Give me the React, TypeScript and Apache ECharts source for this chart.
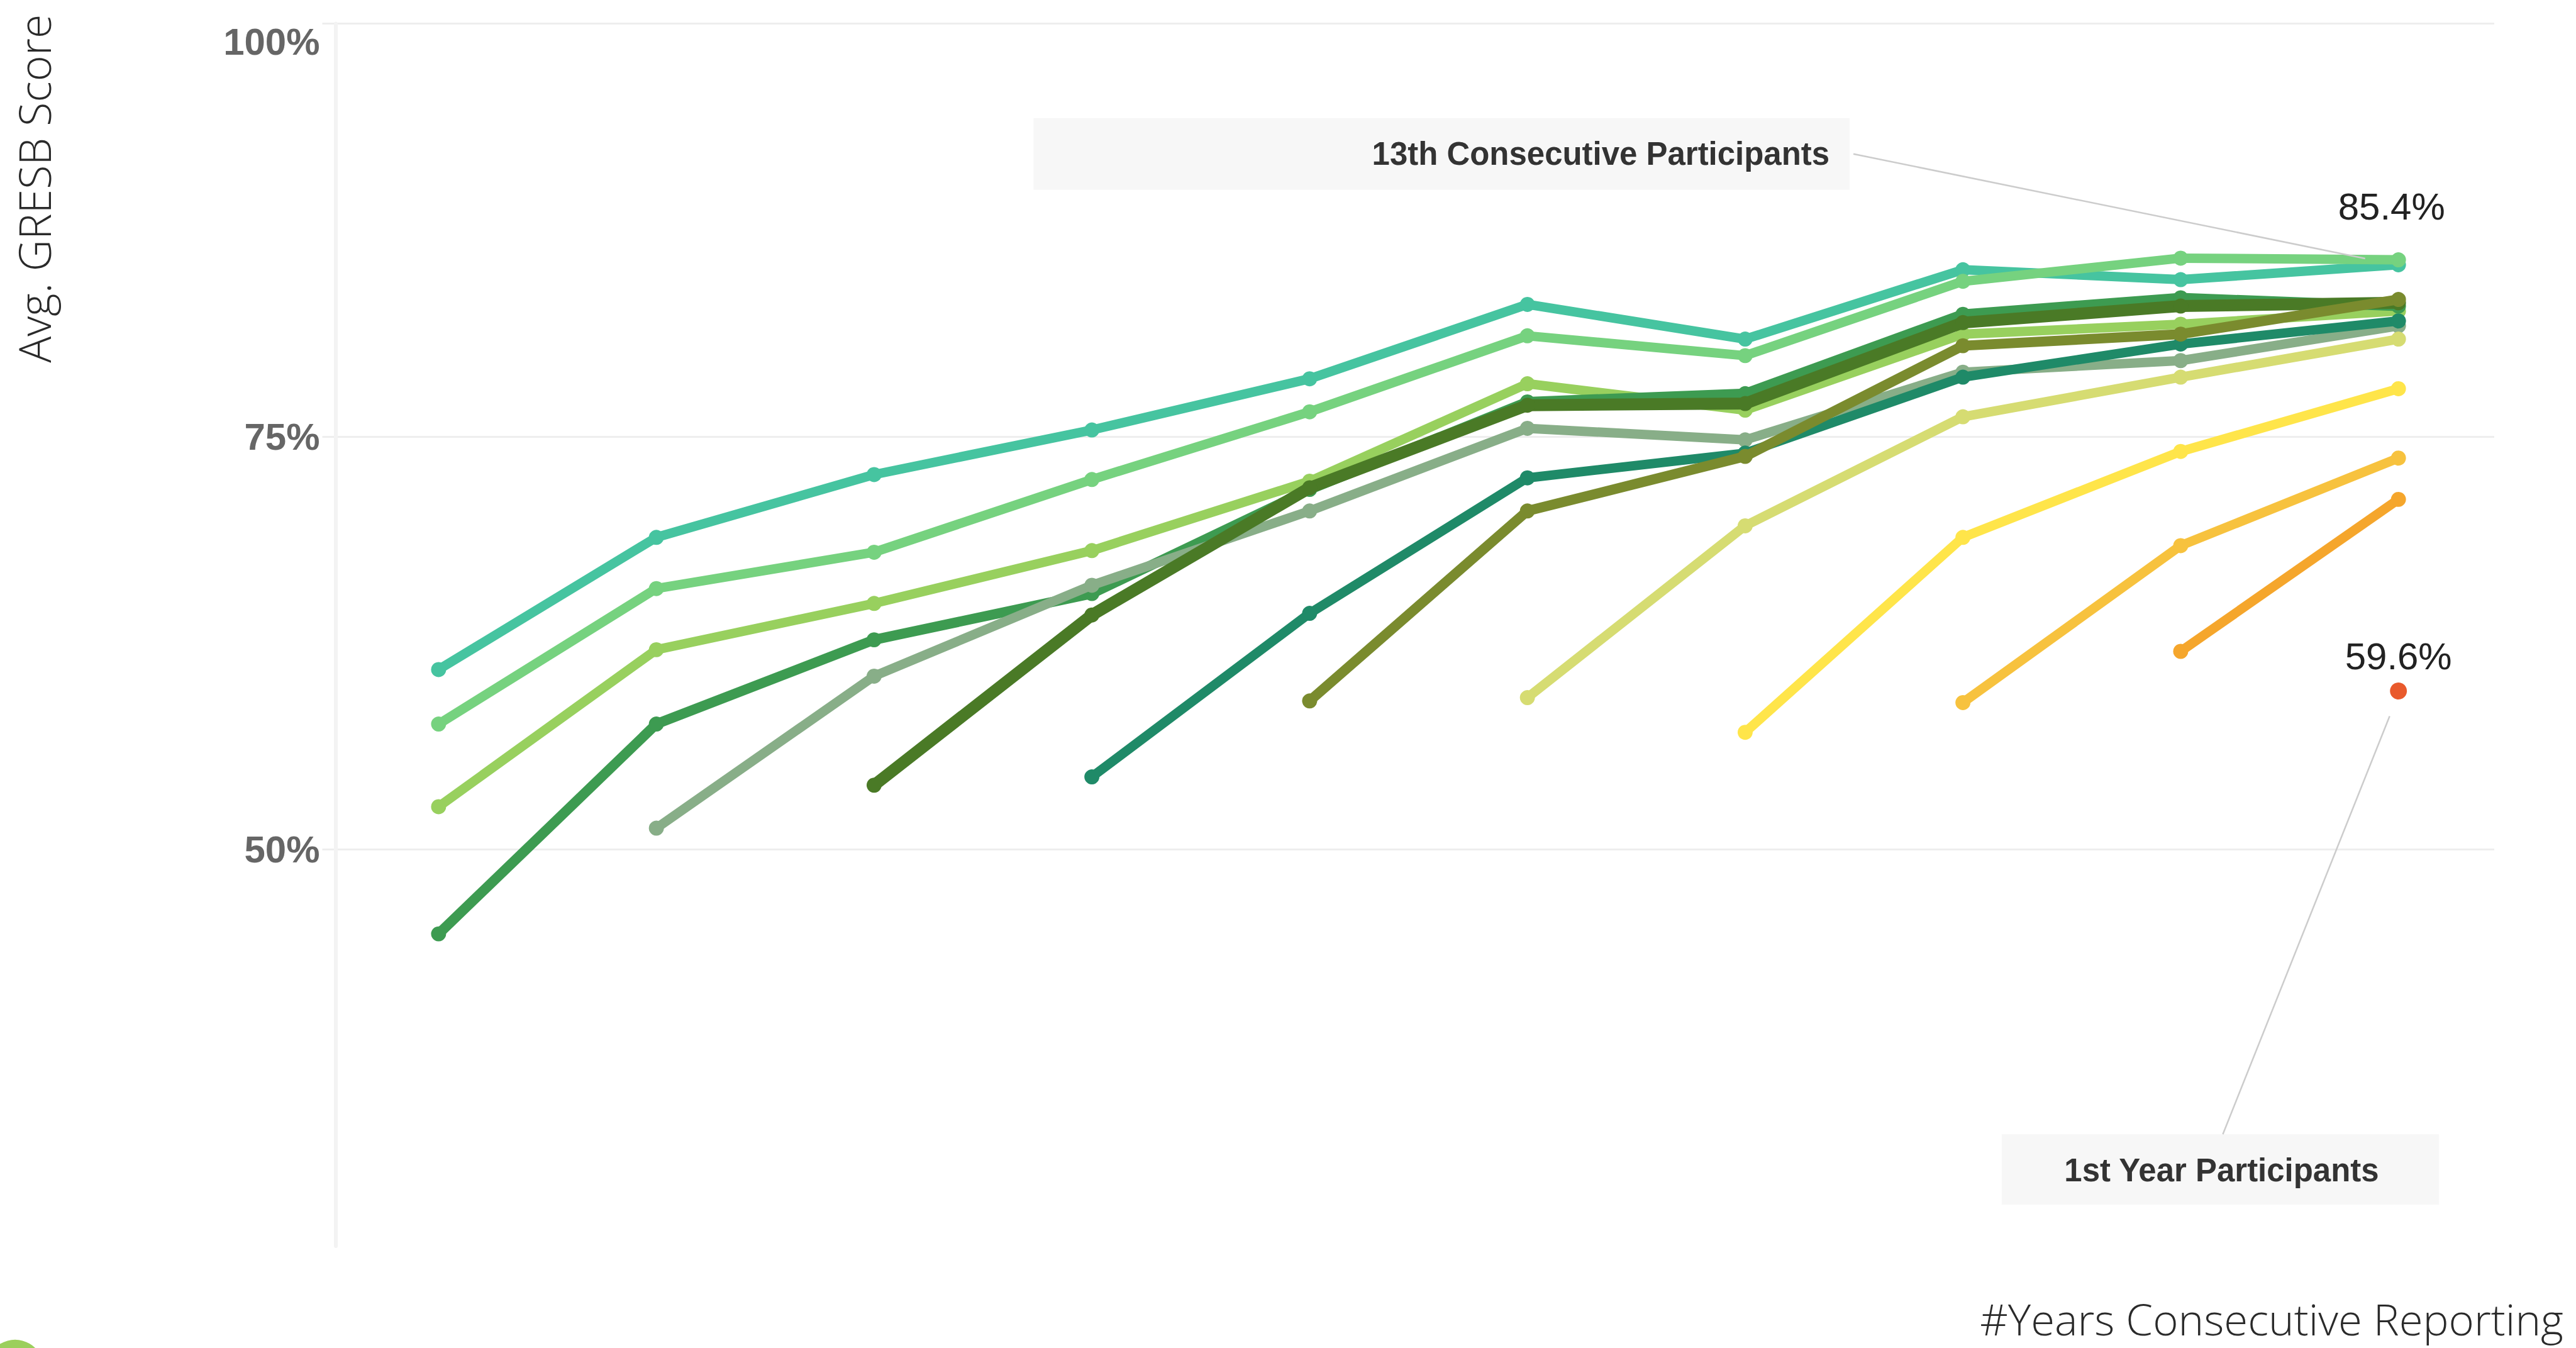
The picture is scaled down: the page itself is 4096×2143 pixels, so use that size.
import React, { useEffect, useRef } from 'react';
import * as echarts from 'echarts';

const S = 0.999;
const W = 4096;
const H = 2143;

// x positions: consecutive reporting years shown (10 columns)
const xIndex = [0, 1, 2, 3, 4, 5, 6, 7, 8, 9];
const yTicks = [50, 75, 100];

const cohortNames = ['13th', '12th', '11th', '10th', '9th', '8th', '7th', '6th', '5th', '4th', '3rd', '2nd', '1st'];
const cohortColors = ['#46c4a0', '#76d27f', '#98d05e', '#3d9b51', '#88ae88', '#4a7a26', '#1f8a68', '#7a8b2e', '#d6dc72', '#ffe54a', '#f7c23e', '#f5a62c', '#e95a2c'];
const cohortWidths = [15, 15, 15, 16, 15, 19, 15, 16, 15, 15, 15, 15, 15];

const c13 = [60.9, 68.9, 72.7, 75.4, 78.5, 83.0, 80.9, 85.1, 84.5, 85.4];
const c12 = [57.6, 65.8, 68.0, 72.4, 76.5, 81.1, 79.9, 84.4, 85.8, 85.7];
const c11 = [52.6, 62.1, 64.9, 68.1, 72.3, 78.2, 76.6, 81.2, 81.8, 82.6];
const c10 = [44.9, 57.6, 62.7, 65.5, 71.8, 77.1, 77.6, 82.4, 83.4, 82.9];
const c9 = [null, 51.3, 60.5, 66.0, 70.5, 75.5, 74.8, 78.9, 79.6, 81.7];
const c8 = [null, null, 53.9, 64.2, 71.9, 76.9, 77.0, 81.9, 82.9, 83.1];
const c7 = [null, null, null, 54.4, 64.3, 72.5, 74.0, 78.6, 80.6, 82.0];
const c6 = [null, null, null, null, 59.0, 70.5, 73.8, 80.5, 81.2, 83.3];
const c5 = [null, null, null, null, null, 59.2, 69.6, 76.2, 78.6, 80.9];
const c4 = [null, null, null, null, null, null, 57.1, 68.9, 74.1, 77.9];
const c3 = [null, null, null, null, null, null, null, 58.9, 68.4, 73.7];
const c2 = [null, null, null, null, null, null, null, null, 62.0, 71.2];
const c1 = [null, null, null, null, null, null, null, null, null, 59.6];

const cohortValues = [c13, c12, c11, c10, c9, c8, c7, c6, c5, c4, c3, c2, c1];

const labelFont = 'Liberation Sans, Arial, sans-serif';
const handFont = 'Open Sans, DejaVu Sans, sans-serif';

export default function App() {
  const ref = useRef<HTMLDivElement>(null);

  useEffect(() => {
    if (!ref.current) return;
    const chart = echarts.init(ref.current, undefined, { renderer: 'svg', width: W, height: H });

    const series: any[] = cohortValues.map((vals, si) => {
      const lastIdx = vals.length - 1;
      const data: any[] = [];
      vals.forEach((v, i) => {
        if (v === null) return;
        const item: any = { value: [xIndex[i], v] };
        if (si === 0 && i === lastIdx) {
          item.label = {
            show: true,
            position: 'top',
            distance: 50 * S,
            offset: [-11 * S, 0],
            formatter: (p: any) => `${p.value[1]}%`,
            fontSize: 60 * S,
            fontFamily: labelFont,
            color: '#222',
          };
        }
        if (si === cohortValues.length - 1 && i === lastIdx) {
          item.label = {
            show: true,
            position: 'top',
            distance: 12 * S,
            formatter: (p: any) => `${p.value[1]}%`,
            fontSize: 60 * S,
            fontFamily: labelFont,
            color: '#222',
          };
        }
        data.push(item);
      });
      const last = si === cohortValues.length - 1;
      return {
        type: 'line',
        name: cohortNames[si],
        data,
        symbol: 'circle',
        symbolSize: (last ? 27 : 24) * S,
        showSymbol: true,
        lineStyle: { color: cohortColors[si], width: cohortWidths[si] * S },
        itemStyle: { color: cohortColors[si] },
        emphasis: { disabled: true },
        silent: true,
        z: 2 + si,
      };
    });

    chart.setOption({
      animation: false,
      backgroundColor: '#ffffff',
      grid: {
        left: 513 * S,
        top: 37.5 * S,
        right: W - 3970 * S,
        bottom: H - 1983 * S,
        containLabel: false,
      },
      xAxis: {
        type: 'value',
        min: -0.534,
        max: 9.44,
        show: false,
      },
      yAxis: {
        type: 'value',
        min: 26,
        max: 100,
        offset: -21 * S,
        axisLine: { show: true, onZero: false, lineStyle: { color: '#f3f3f3', width: 6 * S } },
        axisTick: { show: false, customValues: yTicks },
        axisLabel: {
          customValues: yTicks,
          margin: 25 * S,
          fontSize: 60 * S,
          fontWeight: 'bold',
          fontFamily: labelFont,
          color: '#666666',
          formatter: (v: number) => (v === 100 ? `{top|${v}%}` : `${v}%`),
          rich: {
            top: {
              padding: [58 * S, 0, 0, 0],
              fontSize: 60 * S,
              fontWeight: 'bold',
              fontFamily: labelFont,
              color: '#666666',
            },
          },
        },
        splitLine: { show: true, lineStyle: { color: '#eeeeee', width: 3 * S } },
      },
      series,
    });

    const p13 = chart.convertToPixel({ gridIndex: 0 }, [xIndex[9], c13[9] as number]) as number[];
    const p1 = chart.convertToPixel({ gridIndex: 0 }, [xIndex[9], c1[9] as number]) as number[];

    chart.setOption({
      graphic: [
        {
          type: 'text',
          x: 54 * S,
          y: 300 * S,
          rotation: Math.PI / 2,
          style: {
            text: 'Avg. GRESB Score',
            fontSize: 70 * S,
            fontFamily: handFont,
            fontWeight: 300,
            fill: '#2a2a2a',
            align: 'center',
            verticalAlign: 'middle',
          },
        },
        {
          type: 'text',
          x: 4080 * S,
          y: 2098 * S,
          style: {
            text: '#Years Consecutive Reporting',
            fontSize: 69 * S,
            fontFamily: handFont,
            fontWeight: 300,
            fill: '#2a2a2a',
            align: 'right',
            verticalAlign: 'middle',
          },
        },
        {
          type: 'rect',
          shape: { x: 1645 * S, y: 188 * S, width: (2944 - 1645) * S, height: (302 - 188) * S },
          style: { fill: '#f7f7f7' },
          z: 50,
        },
        {
          type: 'text',
          x: 2912 * S,
          y: 245 * S,
          style: {
            text: '13th Consecutive Participants',
            fontSize: 51 * S,
            fontWeight: 'bold',
            fontFamily: labelFont,
            fill: '#333333',
            align: 'right',
            verticalAlign: 'middle',
          },
          z: 51,
        },
        {
          type: 'line',
          shape: { x1: 2950 * S, y1: 245 * S, x2: p13[0] - 53 * S, y2: p13[1] - 10 * S },
          style: { stroke: '#cccccc', lineWidth: 2.5 * S },
          z: 51,
        },
        {
          type: 'rect',
          shape: { x: 3186 * S, y: 1805 * S, width: (3882 - 3186) * S, height: (1917 - 1805) * S },
          style: { fill: '#f7f7f7' },
          z: 50,
        },
        {
          type: 'text',
          x: 3536 * S,
          y: 1862 * S,
          style: {
            text: '1st Year Participants',
            fontSize: 51 * S,
            fontWeight: 'bold',
            fontFamily: labelFont,
            fill: '#333333',
            align: 'center',
            verticalAlign: 'middle',
          },
          z: 51,
        },
        {
          type: 'line',
          shape: { x1: p1[0] - 14 * S, y1: p1[1] + 40 * S, x2: 3538 * S, y2: 1805 * S },
          style: { stroke: '#cccccc', lineWidth: 2.5 * S },
          z: 51,
        },
        {
          type: 'circle',
          shape: { cx: 24 * S, cy: 2178 * S, r: 46 * S },
          style: { fill: '#9bcf5c' },
          z: 51,
        },
      ],
    });

    return () => {
      chart.dispose();
    };
  }, []);

  return (
    <div
      ref={ref}
      style={{ position: 'fixed', left: 0, top: 0, width: W, height: H, background: '#fff', overflow: 'hidden' }}
    />
  );
}
